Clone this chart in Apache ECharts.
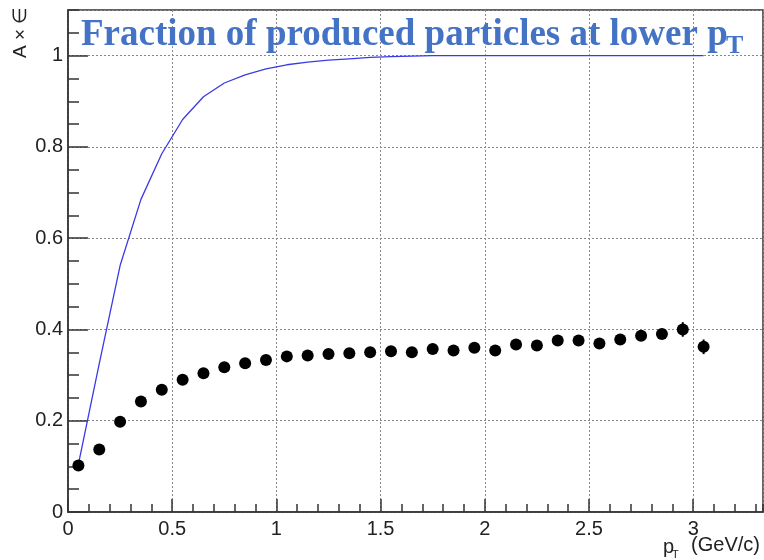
<!DOCTYPE html>
<html>
<head>
<meta charset="utf-8">
<script src="https://cdn.jsdelivr.net/npm/echarts@6/dist/echarts.min.js"></script>
<style>
    html, body {margin:0;padding:0;background:#fff}
    #chart {width:764px;height:560px}
</style>
</head>
<body>
<div id="chart"></div>
<script>
    // bin centres (GeV/c)
    var ptBins = [0.05, 0.15, 0.25, 0.35, 0.45, 0.55, 0.65, 0.75, 0.85, 0.95,
                  1.05, 1.15, 1.25, 1.35, 1.45, 1.55, 1.65, 1.75, 1.85, 1.95,
                  2.05, 2.15, 2.25, 2.35, 2.45, 2.55, 2.65, 2.75, 2.85, 2.95, 3.05];
    // A x eff points
    var accEff = [0.102, 0.137, 0.198, 0.242, 0.268, 0.290, 0.304, 0.317, 0.326, 0.333,
                  0.341, 0.343, 0.346, 0.348, 0.350, 0.352, 0.350, 0.357, 0.354, 0.360,
                  0.354, 0.367, 0.365, 0.376, 0.376, 0.369, 0.378, 0.386, 0.390, 0.400, 0.362];
    var accErr = [0.003, 0.003, 0.003, 0.003, 0.003, 0.003, 0.004, 0.004, 0.004, 0.004,
                  0.004, 0.004, 0.004, 0.005, 0.005, 0.005, 0.005, 0.005, 0.006, 0.006,
                  0.006, 0.007, 0.007, 0.007, 0.008, 0.008, 0.009, 0.010, 0.011, 0.016, 0.016];
    // fraction of produced particles (blue curve)
    var fraction = [0.105, 0.325, 0.540, 0.685, 0.785, 0.860, 0.910, 0.940, 0.958, 0.971,
                    0.980, 0.986, 0.990, 0.993, 0.996, 0.998, 0.999, 1.000, 1.000, 1.000,
                    1.000, 1.000, 1.000, 1.000, 1.000, 1.000, 1.000, 1.000, 1.000, 1.000, 1.000];
    var xTickLabels = ['0', '0.5', '1', '1.5', '2', '2.5', '3'];
    var yTickLabels = ['0', '0.2', '0.4', '0.6', '0.8', '1'];

    var xMax = 3.335, yMax = 1.1;
    var axisColor = '#333';
    var labelFont = 'Liberation Sans';

    var pts = [], errs = [], curve = [];
    for (var i = 0; i < ptBins.length; i++) {
        pts.push([ptBins[i], accEff[i]]);
        errs.push([ptBins[i], accEff[i] - accErr[i], accEff[i] + accErr[i]]);
        curve.push([ptBins[i], fraction[i]]);
    }

    var chart = echarts.init(document.getElementById('chart'), null, {renderer: 'canvas'});

    var option = {
        animation: false,
        backgroundColor: '#fff',
        grid: {
            left: 68, right: 1, top: 10, bottom: 48,
            show: true, borderColor: axisColor, borderWidth: 1.5
        },
        xAxis: [{
            type: 'value', min: 0, max: xMax, interval: 0.5,
            axisLine: {lineStyle: {color: axisColor, width: 1.5}},
            axisTick: {inside: true, length: 13, lineStyle: {color: axisColor, width: 1.5}},
            axisLabel: {
                color: '#222', fontSize: 20, fontFamily: labelFont, margin: 7,
                showMaxLabel: false,
                formatter: function (v) {
                    var s = String(Math.round(v * 10) / 10);
                    return xTickLabels.indexOf(s) >= 0 ? s : '';
                }
            },
            splitLine: {show: true, lineStyle: {color: '#888', type: [2, 2], width: 1}}
        }, {
            type: 'value', position: 'bottom', min: 0, max: xMax, interval: 0.1,
            axisLine: {show: false},
            axisTick: {inside: true, length: 8, lineStyle: {color: axisColor, width: 1.5}},
            axisLabel: {show: false},
            splitLine: {show: false}
        }],
        yAxis: [{
            type: 'value', min: 0, max: yMax, interval: 0.2,
            axisLine: {show: true, lineStyle: {color: axisColor, width: 1.5}},
            axisTick: {show: true, inside: true, length: 20, lineStyle: {color: axisColor, width: 1.5}},
            axisLabel: {
                color: '#222', fontSize: 20, fontFamily: labelFont, margin: 5,
                showMaxLabel: false,
                formatter: function (v) {
                    var s = String(Math.round(v * 10) / 10);
                    return yTickLabels.indexOf(s) >= 0 ? s : '';
                }
            },
            splitLine: {show: true, lineStyle: {color: '#888', type: [2, 2], width: 1}}
        }, {
            type: 'value', position: 'left', min: 0, max: yMax, interval: 0.05,
            axisLine: {show: false},
            axisTick: {show: true, inside: true, length: 11, lineStyle: {color: axisColor, width: 1.5}},
            axisLabel: {show: false},
            splitLine: {show: false}
        }],
        graphic: [
            {
                type: 'text', x: 21, y: 58, rotation: Math.PI / 2,
                style: {text: 'A × ∈', font: '19px "Liberation Sans"', fill: '#222',
                        align: 'left', verticalAlign: 'middle'}
            },
            {
                type: 'text', x: 663, y: 547,
                style: {text: 'p', font: '20px "Liberation Sans"', fill: '#222',
                        align: 'left', verticalAlign: 'middle'}
            },
            {
                type: 'text', x: 672, y: 555,
                style: {text: 'T', font: '11px "Liberation Sans"', fill: '#222',
                        align: 'left', verticalAlign: 'middle'}
            },
            {
                type: 'text', x: 760, y: 545,
                style: {text: '(GeV/c)', font: '20px "Liberation Sans"', fill: '#222',
                        align: 'right', verticalAlign: 'middle'}
            },
            {
                type: 'text', x: 81, y: 35, z: 100,
                style: {text: 'Fraction of produced particles at lower p',
                        font: 'bold 37px "Liberation Serif"', fill: '#4472C4',
                        align: 'left', verticalAlign: 'middle'}
            },
            {
                type: 'text', x: 726, y: 46, z: 100,
                style: {text: 'T', font: 'bold 26px "Liberation Serif"', fill: '#4472C4',
                        align: 'left', verticalAlign: 'middle'}
            }
        ],
        series: [
            {
                name: 'fraction',
                type: 'line',
                data: curve,
                showSymbol: false,
                symbol: 'none',
                lineStyle: {color: '#3a3ae6', width: 1.3},
                z: 3
            },
            {
                name: 'errors',
                type: 'custom',
                data: errs,
                renderItem: function (params, api) {
                    var lo = api.coord([api.value(0), api.value(1)]);
                    var hi = api.coord([api.value(0), api.value(2)]);
                    return {
                        type: 'line',
                        shape: {x1: lo[0], y1: lo[1], x2: hi[0], y2: hi[1]},
                        style: {stroke: '#000', lineWidth: 2}
                    };
                },
                z: 4
            },
            {
                name: 'A x eff',
                type: 'scatter',
                data: pts,
                symbol: 'circle',
                symbolSize: 12,
                itemStyle: {color: '#000', opacity: 1},
                z: 5
            }
        ]
    };
    chart.setOption(option);
</script>
</body>
</html>
